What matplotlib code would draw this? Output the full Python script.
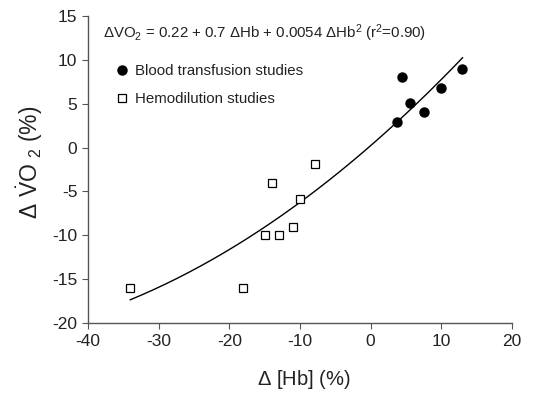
import numpy as np
import matplotlib
matplotlib.use("Agg")
import matplotlib.pyplot as plt

plt.rcParams['font.family'] = ['Liberation Sans', 'DejaVu Sans']
plt.rcParams['mathtext.default'] = 'regular'
plt.rcParams['axes.unicode_minus'] = False

# blood transfusion studies
bt_hb = [3.7, 4.5, 5.6, 7.5, 9.9, 12.9]
bt_vo2 = [2.9, 8.0, 5.1, 4.0, 6.75, 9.0]

# hemodilution studies
hd_hb = [-34, -18, -15, -13, -11, -10, -14, -7.9]
hd_vo2 = [-16, -16, -10, -10, -9, -5.9, -4, -1.9]

# fit coefficients
fit_c = [0.22, 0.7, 0.0054]
fit_range = [-34, 13]

x_ticks = [-40, -30, -20, -10, 0, 10, 20]
y_ticks = [-20, -15, -10, -5, 0, 5, 10, 15]

fig = plt.figure(figsize=(5.39, 3.97), dpi=100)
ax = fig.add_axes([0.163, 0.186, 0.787, 0.774])

xf = np.linspace(fit_range[0], fit_range[1], 200)
yf = fit_c[0] + fit_c[1] * xf + fit_c[2] * xf ** 2
ax.plot(xf, yf, color='black', lw=1.0)

ax.plot(bt_hb, bt_vo2, 'o', color='black', ms=6.5, label='Blood transfusion studies')
ax.plot(hd_hb, hd_vo2, 's', mfc='white', mec='black', mew=0.9, ms=5.3,
        label='Hemodilution studies')

ax.set_xlim(-40, 20)
ax.set_ylim(-20, 15)
ax.set_xticks(x_ticks)
ax.set_yticks(y_ticks)

for s in ['top', 'right']:
    ax.spines[s].set_visible(False)
for s in ['left', 'bottom']:
    ax.spines[s].set_color('#555555')
    ax.spines[s].set_linewidth(1.0)
ax.tick_params(colors='#555555', labelcolor='#222222', labelsize=12.5,
               length=4, direction='out')

ax.text(-37.9, 13, r'$\Delta$VO$_2$ = 0.22 + 0.7 $\Delta$Hb + 0.0054 $\Delta$Hb$^2$ (r$^2$=0.90)',
        fontsize=10.8, va='center', ha='left', color='#222222')

ax.legend(loc='upper left', bbox_to_anchor=(0.045, 0.862), frameon=False,
          fontsize=10.8, handletextpad=0.3, labelspacing=0.93,
          borderaxespad=0, handlelength=1.2, labelcolor='#222222')

ax.set_xlabel(r'$\Delta$ [Hb] (%)', fontsize=14.5, color='#222222')
ax.xaxis.set_label_coords(0.51, -0.147)
ax.set_ylabel(r'$\Delta\ \dot{V}O_{\ 2}$ (%)', fontsize=16.5, color='#222222')
ax.yaxis.set_label_coords(-0.10, 0.524)

fig.savefig('out.png', dpi=100)
